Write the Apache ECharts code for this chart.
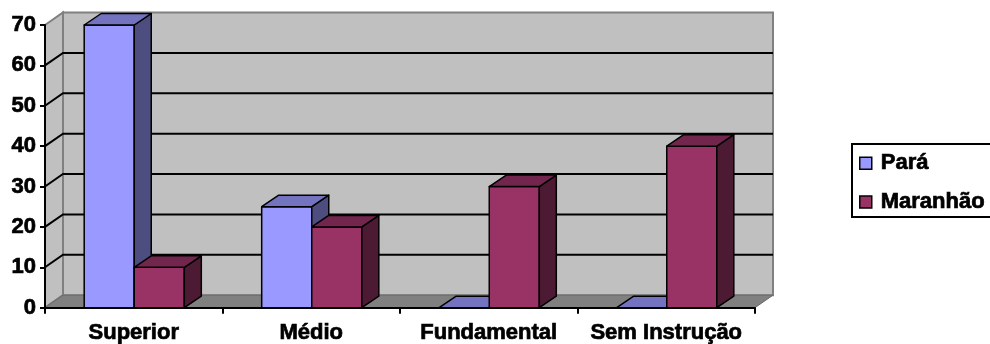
<!DOCTYPE html>
<html>
<head>
<meta charset="utf-8">
<script src="https://cdn.jsdelivr.net/npm/echarts@6/dist/echarts.min.js"></script>
<style>
html,body{margin:0;padding:0;background:#fff;}
#c{width:990px;height:344px;}
</style>
</head>
<body>
<div id="c"></div>
<script>
var categories = ['Superior', 'Médio', 'Fundamental', 'Sem Instrução'];
var para = [70, 25, 0, 0];
var maranhao = [10, 20, 30, 40];
var gridValues = [10, 20, 30, 40, 50, 60];

var WALL_DX = 18, WALL_DY = -12.5;
var BAR_DX = 17, BAR_DY = -11.5;
var FONT = '"Liberation Sans", Arial, sans-serif';

var chart = echarts.init(document.getElementById('c'), null, {renderer: 'canvas'});

function wallsRender(params, api) {
  var cs = params.coordSys;
  var x0 = cs.x, x1 = cs.x + cs.width;
  var yTop = api.coord([0, 70])[1];
  var yBot = api.coord([0, 0])[1];
  var wallStyle = {fill: '#c0c0c0', stroke: '#808080', lineWidth: 2};
  return {
    type: 'group',
    children: [
      {type: 'polygon', shape: {points: [[x0 + WALL_DX, yTop + WALL_DY], [x1 + WALL_DX, yTop + WALL_DY], [x1 + WALL_DX, yBot + WALL_DY], [x0 + WALL_DX, yBot + WALL_DY]]}, style: wallStyle},
      {type: 'polygon', shape: {points: [[x0, yTop], [x0 + WALL_DX, yTop + WALL_DY], [x0 + WALL_DX, yBot + WALL_DY], [x0, yBot]]}, style: wallStyle},
      {type: 'polygon', shape: {points: [[x0, yBot], [x1, yBot], [x1 + WALL_DX, yBot + WALL_DY], [x0 + WALL_DX, yBot + WALL_DY]]}, style: {fill: '#808080', stroke: '#6a6a6a', lineWidth: 1}}
    ]
  };
}

function gridRender(params, api) {
  var cs = params.coordSys;
  var x0 = cs.x, x1 = cs.x + cs.width;
  var y = api.coord([0, api.value(0)])[1];
  return {
    type: 'polyline',
    shape: {points: [[x0, y], [x0 + WALL_DX, y + WALL_DY], [x1 + WALL_DX, y + WALL_DY]]},
    style: {stroke: '#000', lineWidth: 2, fill: null}
  };
}

function makeBarRender(offsetIndex, front, top, side) {
  return function (params, api) {
    var ci = api.value(0);
    var v = api.value(1);
    var band = api.size([1, 0])[0];
    var barW = band * 0.282;
    var center = api.coord([ci, 0])[0] + 0.5;
    var left = center - barW + offsetIndex * barW;
    var right = left + barW;
    var yb = api.coord([ci, 0])[1];
    var yt = api.coord([ci, v])[1];
    var st = {stroke: '#000', lineWidth: 1.5, lineJoin: 'round'};
    var children = [];
    if (v > 0) {
      children.push({type: 'polygon', shape: {points: [[left, yt], [right, yt], [right, yb], [left, yb]]}, style: Object.assign({fill: front}, st)});
      children.push({type: 'polygon', shape: {points: [[right, yt], [right + BAR_DX, yt + BAR_DY], [right + BAR_DX, yb + BAR_DY], [right, yb]]}, style: Object.assign({fill: side}, st)});
    }
    children.push({type: 'polygon', shape: {points: [[left, yt], [left + BAR_DX, yt + BAR_DY], [right + BAR_DX, yt + BAR_DY], [right, yt]]}, style: Object.assign({fill: top}, st)});
    return {type: 'group', children: children};
  };
}

var labelStyle = {fontFamily: FONT, fontWeight: 'bold', fontSize: 22, color: '#000', textBorderColor: '#000', textBorderWidth: 0.7};

var option = {
  animation: false,
  backgroundColor: '#ffffff',
  grid: {left: 45, right: 235, top: 25, bottom: 36, containLabel: false},
  graphic: [
    {type: 'rect', left: 851, top: 143, z: -1, silent: true,
     shape: {width: 160, height: 73},
     style: {fill: '#fff', stroke: '#000', lineWidth: 2}}
  ],
  legend: {
    data: ['Pará', 'Maranhão'],
    orient: 'vertical',
    left: 852,
    top: 144,
    padding: [8, 0, 3, 7],
    itemGap: 16,
    itemWidth: 12,
    itemHeight: 12,
    borderWidth: 0,
    icon: 'rect',
    itemStyle: {borderColor: '#000', borderWidth: 1.5},
    textStyle: Object.assign({lineHeight: 22, padding: [0, 0, 0, 4]}, labelStyle)
  },
  xAxis: {
    type: 'category',
    data: categories,
    boundaryGap: true,
    axisLine: {show: true, lineStyle: {color: '#000', width: 2}},
    axisTick: {show: true, length: 6, lineStyle: {color: '#000', width: 2}},
    axisLabel: Object.assign({interval: 0, margin: 14}, labelStyle),
    splitLine: {show: false},
    z: 10
  },
  yAxis: {
    type: 'value',
    min: 0,
    max: 70,
    interval: 10,
    axisLine: {show: true, lineStyle: {color: '#000', width: 2}},
    axisTick: {show: true, length: 5, lineStyle: {color: '#000', width: 2}},
    axisLabel: Object.assign({margin: 9}, labelStyle),
    splitLine: {show: false},
    z: 10
  },
  series: [
    {
      type: 'custom', name: 'walls', silent: true, z: 1,
      renderItem: wallsRender,
      data: [[0, 0]]
    },
    {
      type: 'custom', name: 'grid', silent: true, z: 2,
      renderItem: gridRender,
      encode: {y: 0},
      data: gridValues.map(function (v) { return [v]; })
    },
    {
      type: 'custom', name: 'Pará', z: 3,
      itemStyle: {color: '#9999ff'},
      renderItem: makeBarRender(0, '#9999ff', '#7373c0', '#4d4d80'),
      encode: {x: 0, y: 1},
      data: para.map(function (v, i) { return [i, v]; })
    },
    {
      type: 'custom', name: 'Maranhão', z: 4,
      itemStyle: {color: '#993366'},
      renderItem: makeBarRender(1, '#993366', '#73264d', '#4d1a33'),
      encode: {x: 0, y: 1},
      data: maranhao.map(function (v, i) { return [i, v]; })
    }
  ]
};
chart.setOption(option);
</script>
</body>
</html>
